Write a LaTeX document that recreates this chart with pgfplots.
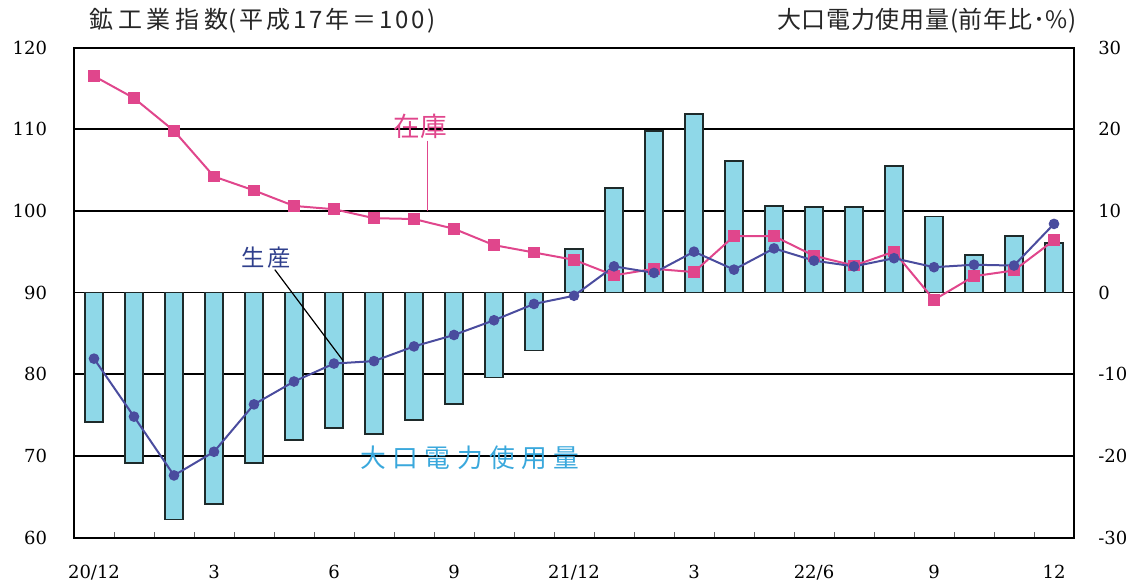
\documentclass[border=0pt]{standalone}
\usepackage{pgfplots}
\pgfplotsset{compat=1.18}
\usepackage{pgfplotstable}
\usepackage{fontspec}
\setmainfont{DejaVu Serif}
\newfontfamily\jp{Noto Sans CJK JP}
\newfontfamily\jpwide[LetterSpace=25]{Noto Sans CJK JP}
\newfontfamily\jptitle[LetterSpace=20]{Noto Sans CJK JP}
\newfontfamily\jptitleb[LetterSpace=12]{Noto Sans CJK JP}
\newfontfamily\jptitlec[LetterSpace=3]{Noto Sans CJK JP}
\newfontfamily\jpmid[LetterSpace=12]{Noto Sans CJK JP}
\definecolor{barfill}{HTML}{8FD8E8}
\definecolor{baredge}{HTML}{1E2A2A}
\definecolor{pinkline}{HTML}{E0468C}
\definecolor{blueline}{HTML}{4A4C9E}
\definecolor{navytext}{HTML}{2F3F8C}
\definecolor{cyantext}{HTML}{3AA8DC}

\pgfplotstableread{
x r
0 -15.9
1 -20.9
2 -27.8
3 -25.9
4 -20.9
5 -18.1
6 -16.6
7 -17.3
8 -15.6
9 -13.6
10 -10.4
11 -7.1
12 5.3
13 12.8
14 19.8
15 21.9
16 16.1
17 10.6
18 10.5
19 10.5
20 15.5
21 9.3
22 4.6
23 6.9
24 6.1
}\bars

\pgfplotstableread{
x prod stock
0 81.9 116.5
1 74.8 113.8
2 67.6 109.8
3 70.5 104.2
4 76.3 102.5
5 79.1 100.6
6 81.3 100.2
7 81.6 99.1
8 83.4 99.0
9 84.8 97.8
10 86.6 95.8
11 88.6 94.9
12 89.6 94.0
13 93.2 92.1
14 92.4 92.9
15 95.0 92.5
16 92.8 96.9
17 95.4 96.9
18 93.9 94.5
19 93.2 93.3
20 94.2 95.0
21 93.1 89.1
22 93.4 92.0
23 93.3 92.7
24 98.4 96.4
}\lines

\begin{document}
\begin{tikzpicture}[x=0.75pt,y=0.75pt]
\path[use as bounding box] (0,0) rectangle (1132,582);

% right axis: bars
\begin{axis}[
  at={(55.5pt,33.375pt)}, anchor=south west,
  scale only axis, width=750pt, height=367.5pt,
  xmin=-0.5, xmax=24.5, ymin=-30, ymax=30,
  xtick=\empty,
  ytick={-30,-20,-10,0,10,20,30},
  yticklabels={-30,-20,-10,0,10,20,30},
  yticklabel pos=right,
  yticklabel style={anchor=west, inner sep=0pt, xshift=18pt, font=\fontsize{13.5}{15}\selectfont},
  major tick length=0pt,
  axis line style={draw=none},
  ymajorgrids,
  grid style={black, line width=1.1pt},
]
\addplot[ybar, bar width=13pt, fill=barfill, draw=baredge, line width=1.4pt]
  table[x=x, y=r] {\bars};
\end{axis}

% left axis: lines
\begin{axis}[
  at={(55.5pt,33.375pt)}, anchor=south west,
  scale only axis, width=750pt, height=367.5pt,
  xmin=-0.5, xmax=24.5, ymin=60, ymax=120,
  ytick={60,70,80,90,100,110,120},
  yticklabels={60,70,80,90,100,110,120},
  yticklabel pos=left,
  yticklabel style={anchor=east, inner sep=0pt, xshift=-20pt, font=\fontsize{13.5}{15}\selectfont},
  xtick={0,3,6,9,12,15,18,21,24},
  xticklabels={20/12,3,6,9,21/12,3,22/6,9,12},
  xticklabel style={anchor=north, inner sep=0pt, yshift=-20.5pt, font=\fontsize{13.5}{15}\selectfont},
  minor xtick={0.5,1.5,...,23.5},
  xtick pos=bottom,
  tick align=inside,
  major tick length=0pt,
  minor tick length=4pt,
  minor tick style={black!60, line width=0.5pt},
  ytick style={draw=none},
  axis line style={black, line width=1.5pt},
  clip=false,
]
\addplot[color=pinkline, line width=1.5pt, mark=square*, mark size=3.6pt, mark options={fill=pinkline, draw=pinkline}]
  table[x=x, y=stock] {\lines};
\addplot[color=blueline, line width=1.5pt, mark=*, mark size=3.2pt, mark options={fill=blueline, draw=blueline}]
  table[x=x, y=prod] {\lines};

\draw[pinkline, line width=1pt] (axis cs:8.34,108.6) -- (axis cs:8.34,100);
\node[text=pinkline, font=\jp\fontsize{20}{22}\selectfont] at (axis cs:8.15,110.3) {在庫};
\draw[black, line width=0.9pt] (axis cs:4.52,92.8) -- (axis cs:6.22,81.7);
\node[text=navytext, font=\jpmid\fontsize{17.5}{20}\selectfont] at (axis cs:4.3,94.3) {生産};
\node[text=cyantext, font=\jpwide\fontsize{19.3}{21}\selectfont] at (axis cs:9.4,69.8) {大口電力使用量};
\end{axis}

\node[anchor=west, inner sep=0pt, text=black!85, font=\jp\fontsize{18}{20}\selectfont] at (89,561)
  {{\jptitle 鉱工業指数}{\jptitleb (平成17年＝100)}};
\node[anchor=east, inner sep=0pt, text=black!85, font=\jptitlec\fontsize{18}{20}\selectfont] at (1077,561)
  {大口電力使用量(前年比･\%)};
\end{tikzpicture}
\end{document}
